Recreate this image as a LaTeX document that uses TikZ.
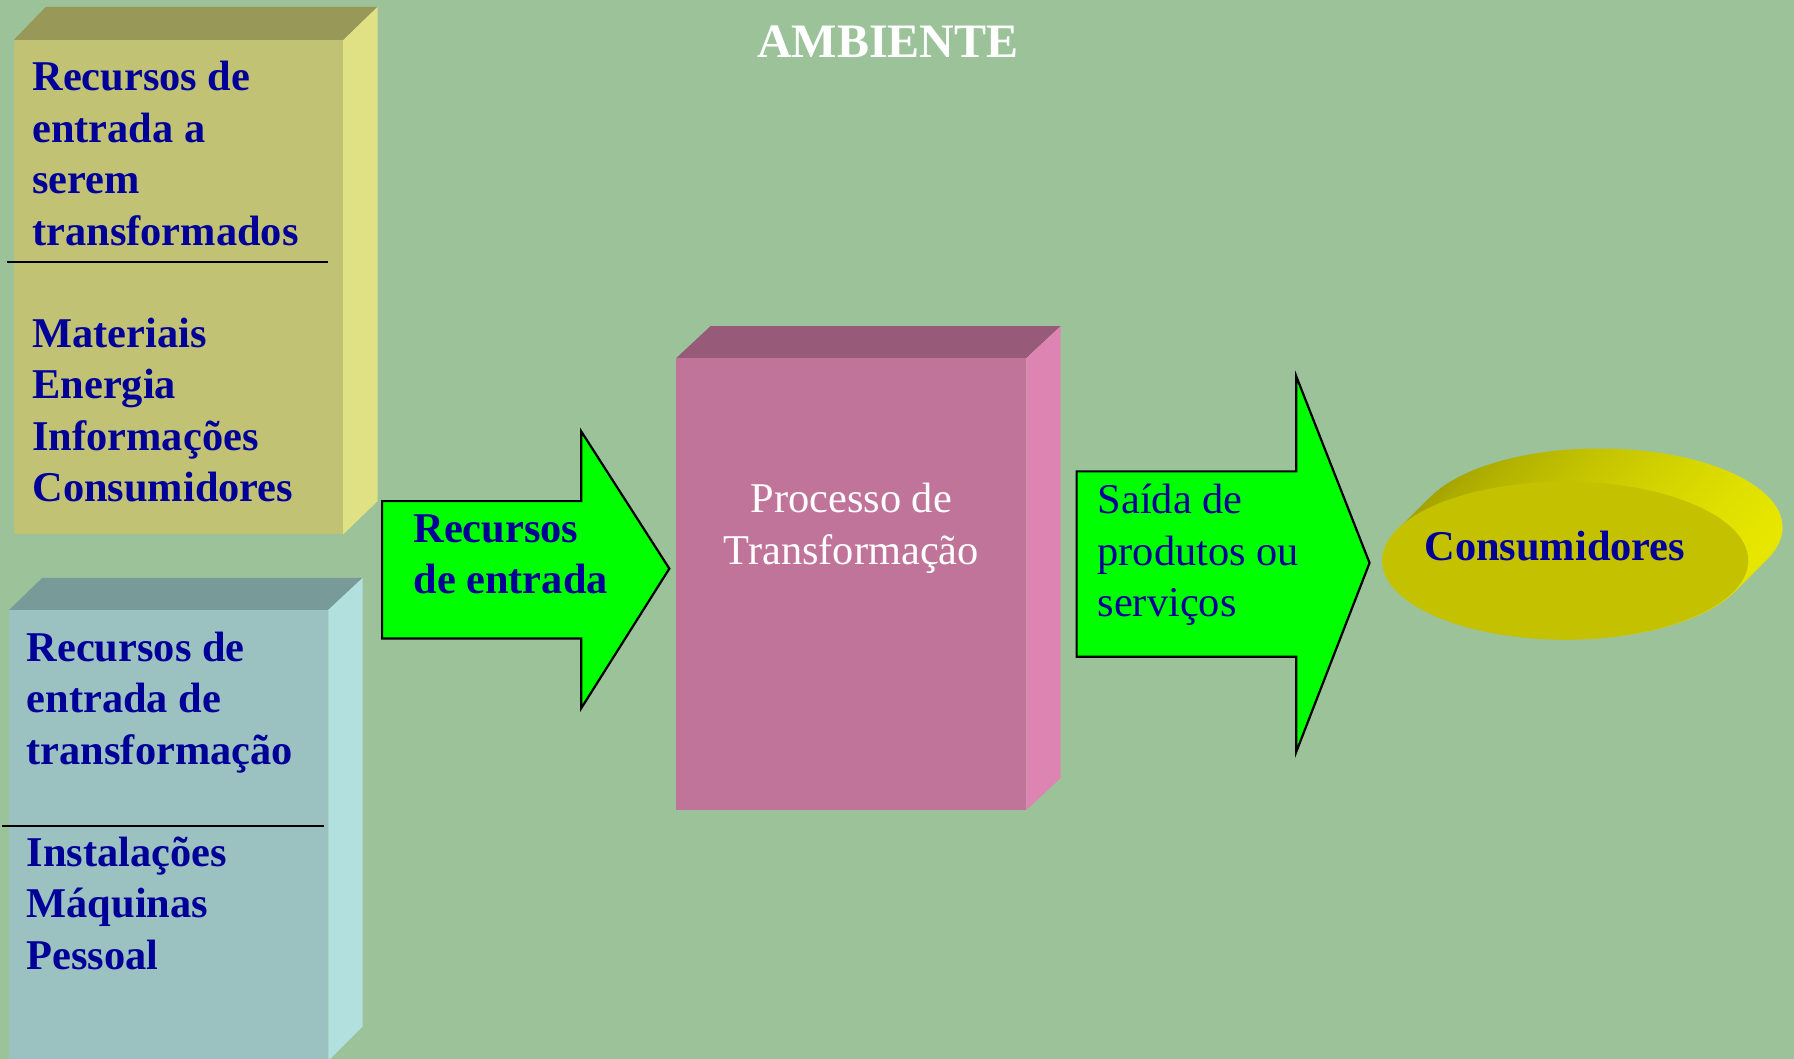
\documentclass[tikz,border=0pt]{standalone}
\usepackage{fontspec}
\setmainfont{Liberation Serif}
\definecolor{bg}{HTML}{9CC29A}
\definecolor{tlfront}{HTML}{C2C275}
\definecolor{tltop}{HTML}{989858}
\definecolor{tlside}{HTML}{E0E085}
\definecolor{blfront}{HTML}{9BC2C0}
\definecolor{bltop}{HTML}{789A98}
\definecolor{blside}{HTML}{B2E0DE}
\definecolor{pfront}{HTML}{C0749A}
\definecolor{ptop}{HTML}{975A79}
\definecolor{pside}{HTML}{DD84B2}
\definecolor{navy}{HTML}{000099}
\definecolor{arrowgreen}{HTML}{00FF00}
\definecolor{ellfront}{HTML}{C4C200}
\definecolor{elldark}{HTML}{979600}
\definecolor{elllight}{HTML}{E6E600}
\begin{document}
\begin{tikzpicture}[x=0.572pt,y=-0.572pt,
  txt/.style={inner sep=0pt, font=\fontsize{21.2}{25.7}\selectfont},
  btxt/.style={txt, font=\fontsize{21.2}{25.7}\selectfont\bfseries, text=navy},
  blockarrow/.style={draw=black, fill=arrowgreen, line width=1.1pt, line join=miter},
  divider/.style={draw=black, line width=1.1pt}]
\useasboundingbox (0,0) rectangle (1568,925);
\fill[bg] (-10,-10) rectangle (1578,940);

% title
\node[inner sep=0pt, font=\fontsize{24}{28}\selectfont\bfseries, text=white, anchor=base] (title) at (776,50) {AMBIENTE};

% top-left box
\fill[tltop] (12,35) -- (40,6) -- (330,6) -- (300,35) -- cycle;
\fill[tlside] (300,35) -- (330,6) -- (330,438) -- (300,467) -- cycle;
\fill[tlfront] (12,35) rectangle (300,467);
\draw[divider] (6,229) -- (287,229);
\foreach \t [count=\i] in {Recursos de, entrada a, serem, transformados}
  \node[btxt, anchor=base west] (tla\i) at (28,{79.5+(\i-1)*45}) {\t};
\foreach \t [count=\i] in {Materiais, Energia, Informações, Consumidores}
  \node[btxt, anchor=base west] (tlb\i) at (28,{303.5+(\i-1)*45}) {\t};

% bottom-left box
\fill[bltop] (8,533) -- (37,505) -- (317,505) -- (287,533) -- cycle;
\fill[blside] (287,533) -- (317,505) -- (317,897) -- (287,927) -- (287,940) -- cycle;
\fill[blfront] (8,533) rectangle (287,940);
\draw[divider] (2,722) -- (283,722);
\foreach \t [count=\i] in {Recursos de, entrada de, transformação}
  \node[btxt, anchor=base west] (bla\i) at (23,{578+(\i-1)*45}) {\t};
\foreach \t [count=\i] in {Instalações, Máquinas, Pessoal}
  \node[btxt, anchor=base west] (blb\i) at (23,{757+(\i-1)*45}) {\t};

% arrow 1
\draw[blockarrow] (334,438) -- (508,438) -- (508,377) -- (585,497) -- (508,619) -- (508,558) -- (334,558) -- cycle;
\node[btxt, anchor=base west] (a1l1) at (361,474) {Recursos};
\node[btxt, anchor=base west] (a1l2) at (361,519) {de entrada};

% process box
\fill[ptop] (591,313) -- (621,285) -- (927,285) -- (897,313) -- cycle;
\fill[pside] (897,313) -- (927,285) -- (927,680) -- (897,708) -- cycle;
\fill[pfront] (591,313) rectangle (897,708);
\node[txt, text=white, anchor=base] (p1) at (744,448) {Processo de};
\node[txt, text=white, anchor=base] (p2) at (744,493) {Transformação};

% arrow 2
\draw[blockarrow] (941,412) -- (1133,412) -- (1133,329) -- (1197,492) -- (1133,657) -- (1133,574) -- (941,574) -- cycle;
\foreach \t [count=\i] in {Saída de, produtos ou, serviços}
  \node[txt, text=navy, anchor=base west] (a2l\i) at (959,{449+(\i-1)*45}) {\t};

% consumidores disc
\foreach \k in {0,...,29}
  \shade[left color=elldark!80!ellfront, middle color=elldark, right color=elllight, shading angle=90]
    ({1368+30-\k},{490-29+\k}) ellipse [x radius=160, y radius=69];
\fill[ellfront] (1368,490) ellipse [x radius=160, y radius=69];
\node[btxt, anchor=base] (cons) at (1359,490) {Consumidores};
\end{tikzpicture}
\end{document}
